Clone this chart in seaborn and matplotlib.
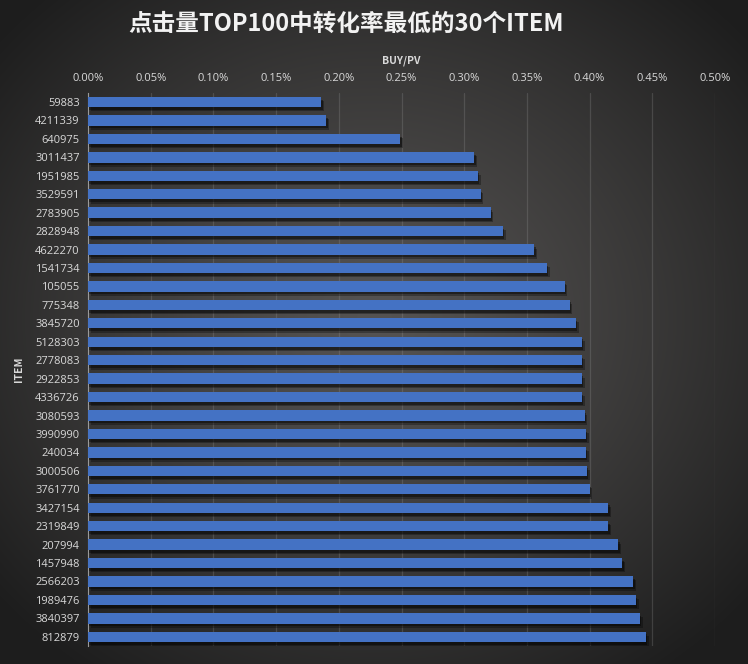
import numpy as np
import pandas as pd
import matplotlib
matplotlib.use("Agg")
import matplotlib.pyplot as plt
import matplotlib.patheffects as pe
from matplotlib.ticker import FuncFormatter, MultipleLocator
import seaborn as sns

items = ["59883", "4211339", "640975", "3011437", "1951985", "3529591", "2783905",
         "2828948", "4622270", "1541734", "105055", "775348", "3845720", "5128303",
         "2778083", "2922853", "4336726", "3080593", "3990990", "240034", "3000506",
         "3761770", "3427154", "2319849", "207994", "1457948", "2566203", "1989476",
         "3840397", "812879"]
buy_pv = [0.00186, 0.00190, 0.00249, 0.00308, 0.00311, 0.00313, 0.00321,
          0.00331, 0.00356, 0.00366, 0.00380, 0.00384, 0.00389, 0.00394,
          0.00394, 0.00394, 0.00394, 0.00396, 0.00397, 0.00397, 0.00398,
          0.00400, 0.00415, 0.00415, 0.00423, 0.00426, 0.00435, 0.00437,
          0.00440, 0.00445]

df = pd.DataFrame({"ITEM": items, "BUY/PV": buy_pv})

sns.set_theme(style="dark")
plt.rcParams['font.family'] = ['Noto Sans CJK SC', 'DejaVu Sans']

W, H = 748, 664
fig = plt.figure(figsize=(W / 100, H / 100), dpi=100)

# radial gradient background
bg = fig.add_axes([0, 0, 1, 1], zorder=-10)
yy, xx = np.mgrid[0:H, 0:W]
r = np.sqrt(((xx - W * 0.5) / (W * 0.65)) ** 2 + ((yy - H * 0.48) / (H * 0.65)) ** 2)
r = np.clip(r, 0, 1) ** 1.2
center = np.array([0x55, 0x53, 0x52]) / 255
edge = np.array([0x1e, 0x1e, 0x1e]) / 255
img = center[None, None, :] * (1 - r[..., None]) + edge[None, None, :] * r[..., None]
bg.imshow(img, aspect="auto", extent=[0, 1, 0, 1])
bg.axis("off")

ax = fig.add_axes([88 / W, 1 - 646 / H, 627 / W, (646 - 92.8) / H])
ax.set_facecolor("none")

sns.barplot(data=df, y="ITEM", x="BUY/PV", orient="h", color="#4472C4",
            saturation=1, width=0.56, linewidth=0, ax=ax, zorder=3)
for p in ax.patches:
    p.set_edgecolor("none")
    p.set_path_effects([
        pe.SimplePatchShadow(offset=(2, -3), shadow_rgbFace="black", alpha=0.3),
        pe.SimplePatchShadow(offset=(1, -2), shadow_rgbFace="black", alpha=0.4),
        pe.Normal()])

ax.set_xlim(0, 0.005)
ax.set_ylim(29.5, -0.5)
ax.xaxis.set_major_locator(MultipleLocator(0.0005))
ax.xaxis.set_major_formatter(FuncFormatter(lambda v, _: f"{v * 100:.2f}%"))
ax.xaxis.tick_top()
ax.xaxis.set_label_position("top")

txt = "#D9D9D9"
ax.tick_params(axis="both", colors=txt, labelsize=8, length=0, pad=6)
for lab in ax.get_xticklabels() + ax.get_yticklabels():
    lab.set_color(txt)
    lab.set_family(['Open Sans', 'DejaVu Sans'])
ax.set_xlabel("BUY/PV", color=txt, fontsize=7.5, fontweight="bold", labelpad=7)
ax.set_ylabel("ITEM", color=txt, fontsize=7.5, fontweight="bold", labelpad=8)

ax.grid(axis="x", color="#9a9a9a", alpha=0.25, linewidth=0.9, zorder=0)
ax.grid(axis="y", visible=False)
for s in ["top", "right", "bottom"]:
    ax.spines[s].set_visible(False)
ax.spines["left"].set_color("#9a9a9a")
ax.spines["left"].set_linewidth(0.8)

fig.text(0.5 - 28 / W, 1 - 24 / H, "点击量TOP100中转化率最低的30个ITEM", ha="center", va="center",
         color="#F2F2F2", fontsize=17, fontweight="bold")

fig.savefig("out.png", dpi=100)
